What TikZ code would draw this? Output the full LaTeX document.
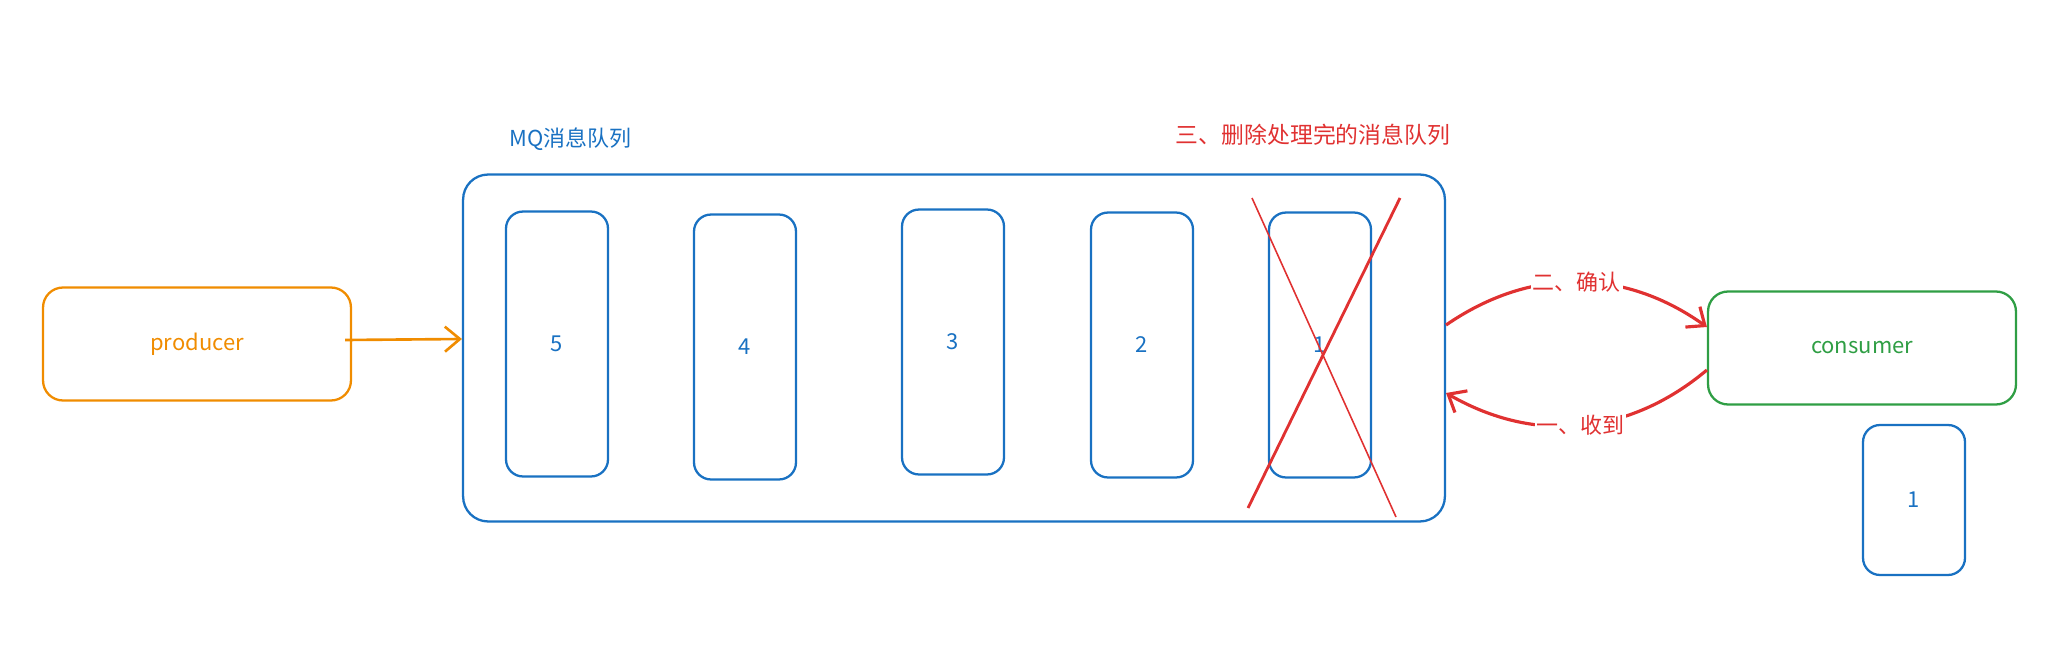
\documentclass[tikz,border=0pt]{standalone}
\usepackage{fontspec}
\setmainfont{Noto Sans CJK SC}
\usetikzlibrary{arrows.meta}
\definecolor{myblue}{HTML}{1971C2}
\definecolor{myorange}{HTML}{F08C00}
\definecolor{mygreen}{HTML}{2F9E44}
\definecolor{myred}{HTML}{E03131}

\begin{document}
\begin{tikzpicture}[x=0.02cm,y=-0.02cm,font=\fontsize{12.5}{15}\selectfont]
\tikzset{box/.style ={draw, line width=1.3pt, rounded corners=0.4cm, minimum width=6.16cm, minimum height=2.26cm}}
\tikzset{msg/.style ={draw=myblue, text=myblue, line width=1.3pt, rounded corners=0.34cm, minimum width=2.04cm, minimum height=5.3cm}}
\tikzset{ack/.style ={draw=myred, line width=1.8pt, -{Straight Barb[length=0.3cm,width=0.5cm]}}}
\tikzset{lbl/.style ={fill=white, text=myred, inner sep=1pt}}
\useasboundingbox (0,0) rectangle (2052,645);
\node[box, draw=myorange, text=myorange] (producer) at (197,344) {producer};
\node[draw=myblue, line width=1.3pt, rounded corners=0.5cm, minimum width=19.64cm, minimum height=6.94cm] (mq) at (954,348) {};
\node[anchor=west, text=myblue] (title) at (503,139) {MQ消息队列};
\foreach \n/\x/\y in {5/557/344, 4/745/347, 3/953/342, 2/1142/345, 1/1320/345}
  \node[msg] (m\n) at (\x,\y) {\n};
\node[box, draw=mygreen, text=mygreen] (consumer) at (1862,348) {consumer};
\node[msg, minimum height=3cm] (got) at (1914,500) {1};
\node[text=myred, font=\fontsize{13}{16}\selectfont] (del) at (1313,135) {三、删除处理完的消息队列};
% cross out message 1
\draw[myred, line width=0.9pt] (1252,198) -- (1396,517);
\draw[myred, line width=1.6pt] (1400,198) -- (1248,508);
\draw[myorange, line width=1.5pt, -{Straight Barb[length=0.3cm,width=0.5cm]}] ([xshift=-0.14cm,yshift=0.08cm]producer.east) -- ([yshift=0.18cm]mq.west);
\draw[ack] ([yshift=0.46cm]mq.east) to[bend left=35] node[lbl] {二、确认} ([yshift=0.42cm]consumer.west);
\draw[ack] ([yshift=-0.44cm]consumer.west) to[bend left=35] node[lbl] {一、收到} ([yshift=-0.9cm]mq.east);
\end{tikzpicture}
\end{document}
